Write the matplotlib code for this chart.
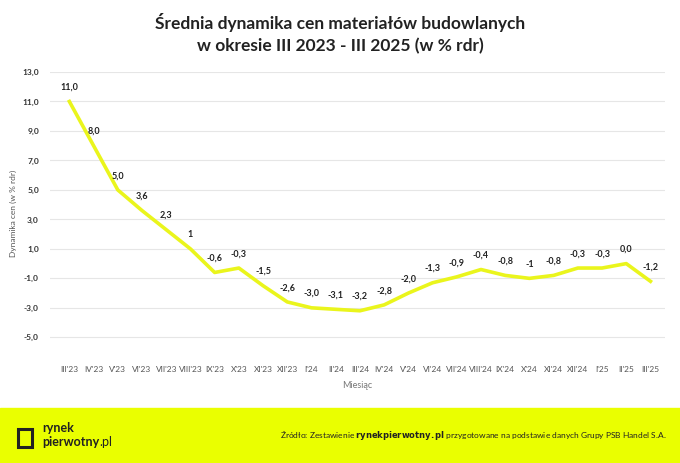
import matplotlib
matplotlib.use("Agg")
import matplotlib.pyplot as plt
from matplotlib.patches import Rectangle

months = ["III'23","IV'23","V'23","VI'23","VII'23","VIII'23","IX'23","X'23","XI'23","XII'23",
          "I'24","II'24","III'24","IV'24","V'24","VI'24","VII'24","VIII'24","IX'24","X'24",
          "XI'24","XII'24","I'25","II'25","III'25"]
values = [11.0,8.0,5.0,3.6,2.3,1.0,-0.6,-0.3,-1.5,-2.6,-3.0,-3.1,-3.2,-2.8,-2.0,-1.3,-0.9,-0.4,-0.8,-1.0,
          -0.8,-0.3,-0.3,0.0,-1.2]
labels = ["11,0","8,0","5,0","3,6","2,3","1","-0,6","-0,3","-1,5","-2,6","-3,0","-3,1","-3,2","-2,8","-2,0",
          "-1,3","-0,9","-0,4","-0,8","-1","-0,8","-0,3","-0,3","0,0","-1,2"]
yticks = [13,11,9,7,5,3,1,-1,-3,-5]

plt.rcParams["font.family"] = "Lato"
fig = plt.figure(figsize=(6.8,4.63), dpi=100)
W, H = 680, 463
ax = fig.add_axes([50/W, 1-355/H, 615/W, (355-72)/H])
x = list(range(len(months)))
ax.plot(x, values, color="#eaf51c", lw=2.6, solid_joinstyle="round")
for xi, v, l in zip(x, values, labels):
    ax.annotate(l, (xi, v), xytext=(0, 7), textcoords="offset points", ha="center", va="bottom",
                fontsize=6.5, fontweight="bold", color="#222222")
ax.set_ylim(-6.2, 13)
ax.set_xlim(-0.8, len(months)-0.4)
ax.set_yticks(yticks)
ax.set_yticklabels([f"{t:.1f}".replace(".", ",") for t in yticks], fontsize=6, fontweight="bold", color="#333333")
ax.set_xticks(x)
ax.set_xticklabels(months, fontsize=6, color="#555555")
ax.tick_params(length=0, pad=8)
ax.grid(axis="y", color="#e6e6e6", lw=0.8)
for s in ax.spines.values():
    s.set_visible(False)
ax.set_ylabel("Dynamika cen (w % rdr)", fontsize=6, color="#555555")
ax.set_xlabel("Miesiąc", fontsize=6.5, color="#777777", labelpad=6)

fig.text(0.5, 1-22/H, "Średnia dynamika cen materiałów budowlanych", ha="center", va="center",
         fontsize=12.5, fontweight="bold", color="#222222")
fig.text(0.5, 1-46/H, "w okresie III 2023 - III 2025 (w % rdr)", ha="center", va="center",
         fontsize=12.5, fontweight="bold", color="#222222")

fig.patches.append(Rectangle((0, 0), 1, 55/H, transform=fig.transFigure, color="#eaff00", zorder=0))
fig.patches.append(Rectangle((18/W, 1-447/H), 14/W, 18/H, transform=fig.transFigure,
                             fill=False, ec="#222222", lw=2.2, zorder=1))
fig.text(42/W, 1-428/H, "rynek", fontsize=9, fontweight="bold", color="#222222", va="center")
fig.text(42/W, 1-442/H, "pierwotny", fontsize=9, fontweight="bold", color="#222222", va="center")
fig.text(99.5/W, 1-442/H, ".pl", fontsize=9, color="#222222", va="center")
fig.text(667/W, 1-436/H, "Źródło: Zestawienie $\\bf{rynekpierwotny.pl}$ przygotowane na podstawie danych Grupy PSB Handel S.A.",
         ha="right", va="center", fontsize=6, color="#222222")
fig.savefig("out.png", dpi=100, facecolor="white")
